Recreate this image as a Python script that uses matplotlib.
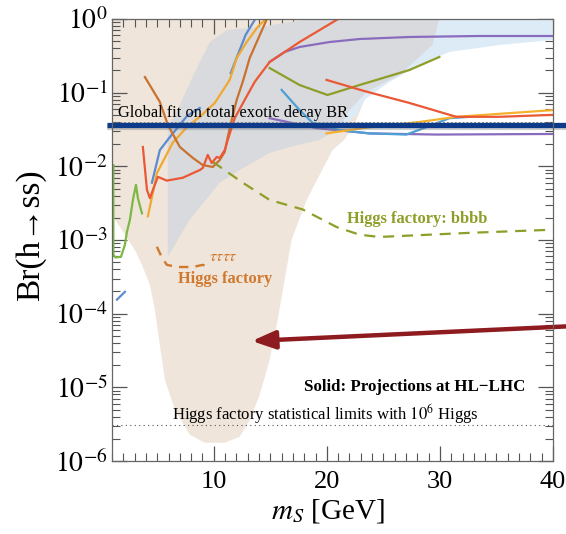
import numpy as np
import matplotlib
matplotlib.use("Agg")
import matplotlib.pyplot as plt
import matplotlib.ticker as mticker

plt.rcParams['font.family'] = ['Liberation Serif', 'DejaVu Serif']
plt.rcParams['mathtext.fontset'] = 'stix'

nan = np.nan

# ---------------- data (m_S in GeV, Br(h->ss)) ----------------
green_x = [1.12, 1.12, 1.3, 1.79, 2.14, 2.32, 2.59, 2.85, 3.12, 3.29, 3.65]
green_y = [0.0104, 0.00063, 0.00058, 0.00059, 0.00086, 0.00129, 0.0019, 0.0035, 0.0056, 0.0037, 0.0023]

smallblue_x = [1.44, 2.14]
smallblue_y = [1.55e-4, 1.98e-4]

blue_x = [4.53, 5.23, 6.12, 7.62, 8.76, nan, 11.5, 12.12, 12.82, 13.88]
blue_y = [0.0060, 0.0166, 0.025, 0.048, 0.062, nan, 0.185, 0.325, 0.61, 1.13]

orange_x = [4.17, 4.53, 4.97, 6.38, 7.62, 8.76, 10.09, 11.41, 12.03, 12.91, 13.88, 14.77]
orange_y = [0.0021, 0.0038, 0.0081, 0.021, 0.034, 0.047, 0.0725, 0.149, 0.296, 0.487, 0.779, 1.06]
orange2_x = [19.97, 23.15, 28.18, 31.45, 40.0]
orange2_y = [0.028, 0.033, 0.040, 0.047, 0.058]

red_x = [3.73, 4.09, 4.35, 4.62, 5.06, 5.85, 7.26, 8.76, 9.03, 9.47, 9.82, 10.26, 10.53,
         10.97, 11.24, 11.85, 12.74, 13.62, 14.94, 17.59, 21.0]
red_y = [0.0183, 0.0048, 0.0037, 0.0048, 0.0072, 0.0064, 0.0070, 0.0089, 0.0095, 0.0143,
         0.0111, 0.0134, 0.0130, 0.0166, 0.023, 0.045, 0.080, 0.140, 0.261, 0.487, 1.0]
red2_x = [19.97, 23.33, 27.30, 31.45, 35.24, 40.0]
red2_y = [0.149, 0.105, 0.0725, 0.047, 0.047, 0.050]

brown_x = [3.91, 5.23, 5.94, 7.0, 8.15, 9.03, 9.91, 10.53, 10.97, 11.24, 11.59, 12.03,
           12.56, 13.18, 13.80, 14.77]
brown_y = [0.163, 0.075, 0.0365, 0.0183, 0.0130, 0.0104, 0.0098, 0.0122, 0.0157, 0.025,
           0.043, 0.080, 0.140, 0.296, 0.487, 1.06]

purple_x = [14.94, 16.27, 17.59, 20.24, 22.89, 27.30, 33.48, 40.0]
purple_y = [0.261, 0.357, 0.417, 0.487, 0.535, 0.570, 0.588, 0.588]
purple2_x = [14.94, 19.09, 23.77, 29.68, 40.0]
purple2_y = [0.045, 0.033, 0.028, 0.027, 0.0275]

olive_x = [14.94, 17.59, 20.06, 22.89, 27.30, 29.95]
olive_y = [0.216, 0.127, 0.093, 0.127, 0.203, 0.305]

skyblue_x = [16.0, 17.59, 18.74, 21.12, 23.77, 27.03, 28.8, 30.83, 32.6]
skyblue_y = [0.109, 0.058, 0.039, 0.031, 0.028, 0.027, 0.034, 0.045, 0.047]

bbbb_x = [9.91, 12.56, 14.94, 17.86, 20.86, 22.89, 24.65, 32.6, 40.0]
bbbb_y = [0.0115, 0.0060, 0.0035, 0.0026, 0.0015, 0.00118, 0.00110, 0.00125, 0.00138]

tau_x = [4.97, 5.41, 5.85, 6.73, 8.15, 9.03, 9.65]
tau_y = [0.00081, 0.00058, 0.00046, 0.00043, 0.00043, 0.00046, 0.00042]

beige_x = [1.0, 23.33, 23.33, 22.62, 21.56, 20.5, 18.21, 16.88, 16.27, 15.65, 14.94, 14.06,
           13.18, 12.29, 10.97, 9.21, 7.88, 6.56, 5.68, 5.23, 4.79, 4.35, 3.65, 3.03, 2.14, 1.0]
beige_y = [1.0, 1.0, 0.080, 0.043, 0.023, 0.0166, 0.0035, 0.0010, 2.9e-4, 8.2e-5, 2.36e-5,
           7.9e-6, 3.6e-6, 2.13e-6, 1.77e-6, 1.77e-6, 2.27e-6, 4.95e-6, 1.26e-5, 3.77e-5,
           1.13e-4, 2.46e-4, 4.6e-4, 7.3e-4, 1.18e-3, 2.2e-3]

gray_x = [5.94, 5.94, 6.29, 6.73, 8.32, 9.65, 11.15, 14.06, 16.71, 18.47, 29.95, 29.33,
          26.42, 23.5, 22.0, 21.12, 19.36, 16.71, 14.94, 12.29, 10.53, 7.88]
gray_y = [5.9e-4, 0.031, 0.043, 0.055, 0.191, 0.487, 0.709, 0.779, 0.91, 1.0, 1.0, 0.443,
          0.174, 0.102, 0.058, 0.033, 0.023, 0.0183, 0.0152, 0.0089, 0.0060, 0.0019]

lblue_x = [17.59, 40.0, 40.0, 35.24, 30.83, 28.18, 25.53, 23.33, 22.62, 21.12]
lblue_y = [1.0, 1.0, 0.519, 0.443, 0.357, 0.237, 0.140, 0.080, 0.050, 0.033]

global_fit = 0.0365
stat_limit = 3.1e-6

x_ticks = [10, 20, 30, 40]
y_ticks = [1e-6, 1e-5, 1e-4, 1e-3, 1e-2, 1e-1, 1e0]
y_ticklabels = [r'$10^{-6}$', r'$10^{-5}$', r'$10^{-4}$', r'$10^{-3}$', r'$10^{-2}$',
                r'$10^{-1}$', r'$10^{0}$']

# ---------------- figure ----------------
fig = plt.figure(figsize=(5.66, 5.34), dpi=100)
ax = fig.add_axes([112/566, (534-461)/534, (553-112)/566, (461-19)/534])
ax.set_yscale('log')
ax.set_xlim(1, 40)
ax.set_ylim(1e-6, 1)

ax.fill(beige_x, beige_y, color='#EFE5DA', lw=0, zorder=1)
ax.fill(lblue_x, lblue_y, color='#DDEBF7', lw=0, zorder=2)
ax.fill(gray_x, gray_y, color='#D9DADD', lw=0, zorder=3)

lw = 1.6
ax.plot(green_x, green_y, color='#7DB845', lw=lw, zorder=5)
ax.plot(smallblue_x, smallblue_y, color='#5B8BD0', lw=lw, zorder=5)
ax.plot(purple_x, purple_y, color='#8A6CBF', lw=lw, zorder=5)
ax.plot(purple2_x, purple2_y, color='#8A6CBF', lw=lw, zorder=5)
ax.plot(skyblue_x, skyblue_y, color='#4E9FD6', lw=lw, zorder=5)
ax.plot(olive_x, olive_y, color='#8E9E28', lw=lw, zorder=5)
ax.plot(blue_x, blue_y, color='#5B8BD0', lw=lw, zorder=5)
ax.plot(orange_x, orange_y, color='#F0A830', lw=lw, zorder=6)
ax.plot(orange2_x, orange2_y, color='#F5B02E', lw=lw, zorder=6)
ax.plot(brown_x, brown_y, color='#C9712E', lw=lw, zorder=6)
ax.plot(red_x, red_y, color='#EA5836', lw=lw, zorder=7)
ax.plot(red2_x, red2_y, color='#EA5836', lw=lw, zorder=7)

ax.plot(bbbb_x, bbbb_y, color='#8E9E28', lw=1.6, ls=(0, (5, 3.5)), zorder=6)
ax.plot(tau_x, tau_y, color='#D0782E', lw=1.7, ls=(0, (4, 3)), zorder=6)

ax.axhline(stat_limit, color='#555555', lw=0.8, ls=(0, (1, 3)), zorder=4)
ax.axhline(global_fit * 1.09, color='#888888', lw=0.7, ls=(0, (2, 2)), zorder=8)

# global-fit bar (extends beyond axes) with shadow
trans = matplotlib.transforms.blended_transform_factory(ax.transAxes, ax.transData)
ax.plot([-0.011, 1.03], [global_fit * 0.94, global_fit * 0.94], transform=trans,
        color='#777777', alpha=0.35, lw=4.5, clip_on=False, zorder=9,
        solid_capstyle='butt')
ax.plot([-0.011, 1.03], [global_fit, global_fit], transform=trans, color='#0E3A8A',
        lw=3.8, clip_on=False, zorder=10, solid_capstyle='butt')

# arrow
ax.annotate('', xy=(0.317, (461-341)/442), xytext=(1.05, (461-326)/442),
            xycoords='axes fraction', textcoords='axes fraction',
            arrowprops=dict(arrowstyle='-|>,head_length=1.4,head_width=0.55',
                            lw=3.2, color='#8E1B1F', shrinkA=0, shrinkB=0),
            annotation_clip=False, zorder=11)

# texts
ax.text(1.53, 0.047, 'Global fit on total exotic decay BR', fontsize=11.8,
        va='baseline', ha='left', zorder=12)
ax.text(28.0, 0.0019, 'Higgs factory: bbbb', fontsize=11.8, fontweight='bold',
        color='#8E9E28', ha='center', va='center', zorder=12)
ax.text(10.8, 0.00058, r'$\tau\tau\tau\tau$', fontsize=11.5, color='#D0782E',
        ha='center', va='center', zorder=12)
ax.text(10.97, 2.97e-4, 'Higgs factory', fontsize=11.8, fontweight='bold',
        color='#D0782E', ha='center', va='center', zorder=12)
ax.text(37.6, 1.02e-5, 'Solid: Projections at HL\u2212LHC', fontsize=12.2,
        fontweight='bold', ha='right', va='center', zorder=12)
ax.text(19.9, 4.37e-6, r'Higgs factory statistical limits with $10^6$ Higgs',
        fontsize=12.0, ha='center', va='center', zorder=12)

# ticks
ax.set_xticks(x_ticks)
ax.set_xticklabels([str(v) for v in x_ticks])
ax.xaxis.set_minor_locator(mticker.MultipleLocator(1))
ax.set_yticks(y_ticks)
ax.set_yticklabels(y_ticklabels)
ax.yaxis.set_minor_locator(mticker.LogLocator(base=10, subs=np.arange(2, 10), numticks=20))
ax.yaxis.set_minor_formatter(mticker.NullFormatter())
ax.tick_params(which='both', direction='in', top=True, right=True, color='#555555')
ax.tick_params(which='major', length=11, width=0.9)
ax.tick_params(which='minor', length=6, width=0.8)
ax.tick_params(axis='x', which='major', labelsize=19, pad=7)
ax.tick_params(axis='y', which='major', labelsize=20, pad=3)
for s in ax.spines.values():
    s.set_color('#666666')
    s.set_linewidth(0.9)
    s.set_zorder(13)

ax.set_xlabel(r'$m_S$ [GeV]', fontsize=21)
ax.set_ylabel('Br(h\u2192ss)', fontsize=24)
ax.xaxis.set_label_coords(0.49, -0.082)
ax.yaxis.set_label_coords(-0.15, 0.51)

fig.savefig('out.png', dpi=100)
